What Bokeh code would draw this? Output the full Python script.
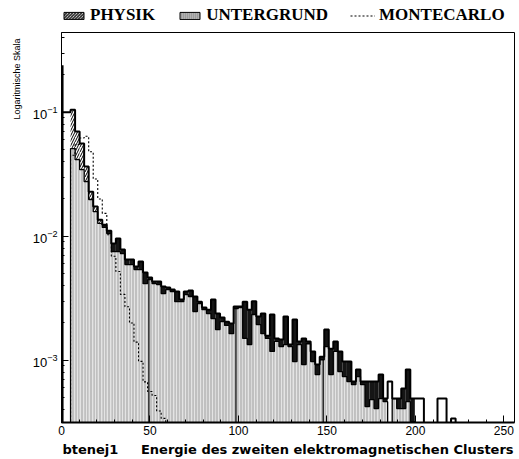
from bokeh.plotting import figure
from bokeh.layouts import column
from bokeh.models import (ColumnDataSource, FixedTicker, SingleIntervalTicker, Legend,
                          LegendItem, Title, Range1d)
from bokeh.embed import file_html
from bokeh.resources import INLINE

# ---------------- data ----------------
bin_width = 2.56
n_bins = 100
x_start, x_end = 0, 256
y_start, y_end = 3.15e-4, 0.44

total = [
    0.100, 0.100, 0.105, 0.0699, 0.0559, 0.0365, 0.0229, 0.0174, 0.0136, 0.0124,
    0.0111, 0.00873, 0.00958, 0.00781, 0.00649, 0.00649, 0.00570, 0.00625, 0.00510, 0.00465,
    0.00431, 0.00431, 0.00393, 0.00386, 0.00372, 0.00358, 0.00309, 0.00358, 0.00365, 0.00327,
    0.00297, 0.00266, 0.00256, 0.00309, 0.00238, 0.00221, 0.00205, 0.00198, 0.00271, 0.00271,
    0.00297, 0.00256, 0.00300, 0.00225, 0.00238, 0.00158, 0.00234, 0.00150, 0.00147, 0.00225,
    0.00134, 0.00213, 0.00142, 0.00150, 0.00142, 0.00118, 0.000923, 0.00107, 0.00177, 0.00124,
    0.00142, 0.00118, 0.000976, 0.000976, 0.000673, 0.000841, 0.000673, 0.000673, 0.000673, 0.000673,
    0.000767, 0.000491, 0.000673, 0.000491, 0.000491, 0.000591, 0.000841, 0.000491, 0.000491, 0.000491,
    0, 0, 0, 0.000491, 0.000491, 0, 0.000339, 0, 0, 0,
    0, 0, 0, 0, 0, 0, 0, 0, 0, 0,
]

untergrund = [
    0, 0, 0.0510, 0.0415, 0.0345, 0.0276, 0.0198, 0.0158, 0.0127, 0.0118,
    0.0105, 0.00752, 0.00752, 0.00725, 0.00591, 0.00591, 0.00539, 0.00539, 0.00415, 0.00447,
    0.00415, 0.00408, 0.00345, 0.00372, 0.00358, 0.00297, 0.00297, 0.00339, 0.00327, 0.00247,
    0.00287, 0.00256, 0.00238, 0.00217, 0.00177, 0.00205, 0.00191, 0.00164, 0.00261, 0.00266,
    0.00150, 0.00134, 0.00234, 0.00194, 0.00164, 0.00150, 0.00118, 0.00142, 0.00129, 0.00134,
    0.00129, 0.000976, 0.00134, 0.000923, 0.00136, 0.000976, 0.000767, 0.00101, 0.00129, 0.000767,
    0.00118, 0.000811, 0.000739, 0.000673, 0.000637, 0.000739, 0.000637, 0.000423, 0.000482, 0.000408,
    0.000491, 0.000464, 0, 0.000491, 0.000408, 0.000408, 0.000464, 0.000320, 0, 0,
    0, 0, 0, 0, 0, 0, 0, 0, 0, 0,
    0, 0, 0, 0, 0, 0, 0, 0, 0, 0,
]

montecarlo = [
    0, 0, 0.045, 0.055, 0.062, 0.064, 0.048, 0.029, 0.020, 0.0153,
    0.0103, 0.0069, 0.0052, 0.0034, 0.0027, 0.0020, 0.0014, 0.00098, 0.00067, 0.00056,
    0.00052, 0.00039, 0.00034, 0, 0, 0, 0, 0, 0, 0,
] + [0] * 70

spike_energy = [0.6]
spike_value = [0.24]
group_edges = [49.4, 98.6, 147.9]

x_ticks_interval = 50
y_major_ticks = [1e-3, 1e-2, 1e-1]
y_minor_ticks = [m * 10.0 ** e for e in (-4, -3, -2, -1) for m in range(2, 10)]

legend_labels = ["PHYSIK", "UNTERGRUND", "MONTECARLO"]
x_label = "btenej1" + "\u00a0" * 5 + "Energie des zweiten elektromagnetischen Clusters"
y_label = "Logaritmische Skala"

# ---------------- derived tables ----------------
floor = 1e-7
edges = [i * bin_width for i in range(n_bins + 1)]
hatched_bins = 9   # wide PHYSIK bands are hatched, the narrow ones look black


def step_xy(values):
    xs, ys = [edges[0]], [floor]
    for i, v in enumerate(values):
        v = v if v > 0 else floor
        xs += [edges[i], edges[i + 1]]
        ys += [v, v]
    xs.append(edges[-1])
    ys.append(floor)
    return xs, ys


def quads(idx, bottoms, tops):
    return ColumnDataSource(dict(
        left=[edges[i] for i in idx], right=[edges[i + 1] for i in idx],
        bottom=[bottoms[i] for i in idx], top=[tops[i] for i in idx]))


floors = [floor] * n_bins
bg_idx = [i for i in range(n_bins) if untergrund[i] > 0]
ph_idx = [i for i in range(n_bins) if untergrund[i] > 0 and total[i] > untergrund[i]]
bg_src = quads(bg_idx, floors, untergrund)
ph_lo_src = quads([i for i in ph_idx if i < hatched_bins], untergrund, total)
ph_hi_src = quads([i for i in ph_idx if i >= hatched_bins], untergrund, total)

tx, ty = step_xy(total)
bx, by = step_xy(untergrund)
mx, my = step_xy(montecarlo)
mc_src = ColumnDataSource(dict(x=mx, y=my))

edge_tops = [untergrund[int(e // bin_width)] for e in group_edges]

# ---------------- main figure ----------------
p = figure(width=519, height=427, x_range=(x_start, x_end), y_range=(y_start, y_end),
           y_axis_type="log", output_backend="svg", toolbar_location=None,
           min_border_left=61, min_border_right=5, min_border_top=0, min_border_bottom=37)
p.grid.visible = False
p.outline_line_color = "black"
p.outline_line_width = 1

p.quad(left="left", right="right", bottom="bottom", top="top", source=bg_src,
       fill_color="#c0c0c0", line_color=None,
       hatch_pattern="|", hatch_color="#e4e4e4", hatch_scale=3, hatch_weight=1)
p.quad(left="left", right="right", bottom="bottom", top="top", source=ph_lo_src,
       fill_color="white", line_color=None,
       hatch_pattern="/", hatch_color="black", hatch_scale=5, hatch_weight=1)
p.quad(left="left", right="right", bottom="bottom", top="top", source=ph_hi_src,
       fill_color="#151515", line_color=None)
p.segment(x0=group_edges, y0=[floor] * len(group_edges), x1=group_edges, y1=edge_tops,
          line_color="black", line_width=1.2)
p.line("x", "y", source=mc_src, line_color="black", line_width=1.1, line_dash="2 2")
p.line(bx, by, line_color="black", line_width=1.3)
p.line(tx, ty, line_color="black", line_width=2)
p.segment(x0=spike_energy, y0=[floor], x1=spike_energy, y1=spike_value,
          line_color="black", line_width=2)

xa = p.xaxis[0]
xa.ticker = SingleIntervalTicker(interval=x_ticks_interval, num_minor_ticks=5)
xa.major_tick_in = 7
xa.major_tick_out = 0
xa.minor_tick_in = 3
xa.minor_tick_out = 0
xa.axis_line_width = 2
xa.major_label_text_font = "Liberation Sans"
xa.major_label_text_font_size = "12px"
xa.major_label_text_color = "black"
xa.major_label_standoff = 3
xa.axis_label = x_label
xa.axis_label_text_font = "DejaVu Sans"
xa.axis_label_text_font_style = "bold"
xa.axis_label_text_font_size = "13px"
xa.axis_label_text_color = "black"
xa.axis_label_standoff = 4

ya = p.yaxis[0]
ya.ticker = FixedTicker(ticks=y_major_ticks, minor_ticks=y_minor_ticks)
ya.major_tick_in = 7
ya.major_tick_out = 0
ya.minor_tick_in = 3
ya.minor_tick_out = 0
ya.axis_line_width = 1
ya.major_label_text_font = "Liberation Sans"
ya.major_label_text_font_size = "13px"
ya.major_label_text_color = "black"
ya.major_label_standoff = 4

p.add_layout(Title(text=y_label, align="right", offset=6, standoff=16,
                   text_font="Liberation Sans", text_font_style="normal",
                   text_font_size="9px", text_color="black"), "left")

# ---------------- legend strip above the frame ----------------
lf = figure(width=519, height=32, x_range=Range1d(x_start, x_end), y_range=Range1d(10, 20),
            output_backend="svg", toolbar_location=None,
            x_axis_location=None, y_axis_location=None,
            min_border_left=0, min_border_right=0, min_border_top=0, min_border_bottom=0)
lf.grid.visible = False
lf.outline_line_color = None
l_ph = lf.quad(left="left", right="right", bottom="bottom", top="top", source=ph_lo_src,
               fill_color="white", line_color="black", line_width=1,
               hatch_pattern="\\", hatch_color="black", hatch_scale=3, hatch_weight=1)
l_bg = lf.quad(left="left", right="right", bottom="bottom", top="top", source=bg_src,
               fill_color="#9c9c9c", line_color="black", line_width=1,
               hatch_pattern="|", hatch_color="#c6c6c6", hatch_scale=2, hatch_weight=1)
l_mc = lf.line("x", "y", source=mc_src, line_color="black", line_width=1.1, line_dash="2 2")

legend = Legend(items=[LegendItem(label=legend_labels[0], renderers=[l_ph]),
                       LegendItem(label=legend_labels[1], renderers=[l_bg]),
                       LegendItem(label=legend_labels[2], renderers=[l_mc])],
                orientation="horizontal", location=(0, 7),
                glyph_width=25, glyph_height=9, label_height=14, label_standoff=4, spacing=22,
                padding=0, margin=0, border_line_color=None, background_fill_alpha=0,
                label_text_font="Liberation Serif", label_text_font_style="bold",
                label_text_font_size="17px", label_text_color="black")
lf.add_layout(legend)

open("out.html", "w").write(file_html(column(lf, p, spacing=0), INLINE))
